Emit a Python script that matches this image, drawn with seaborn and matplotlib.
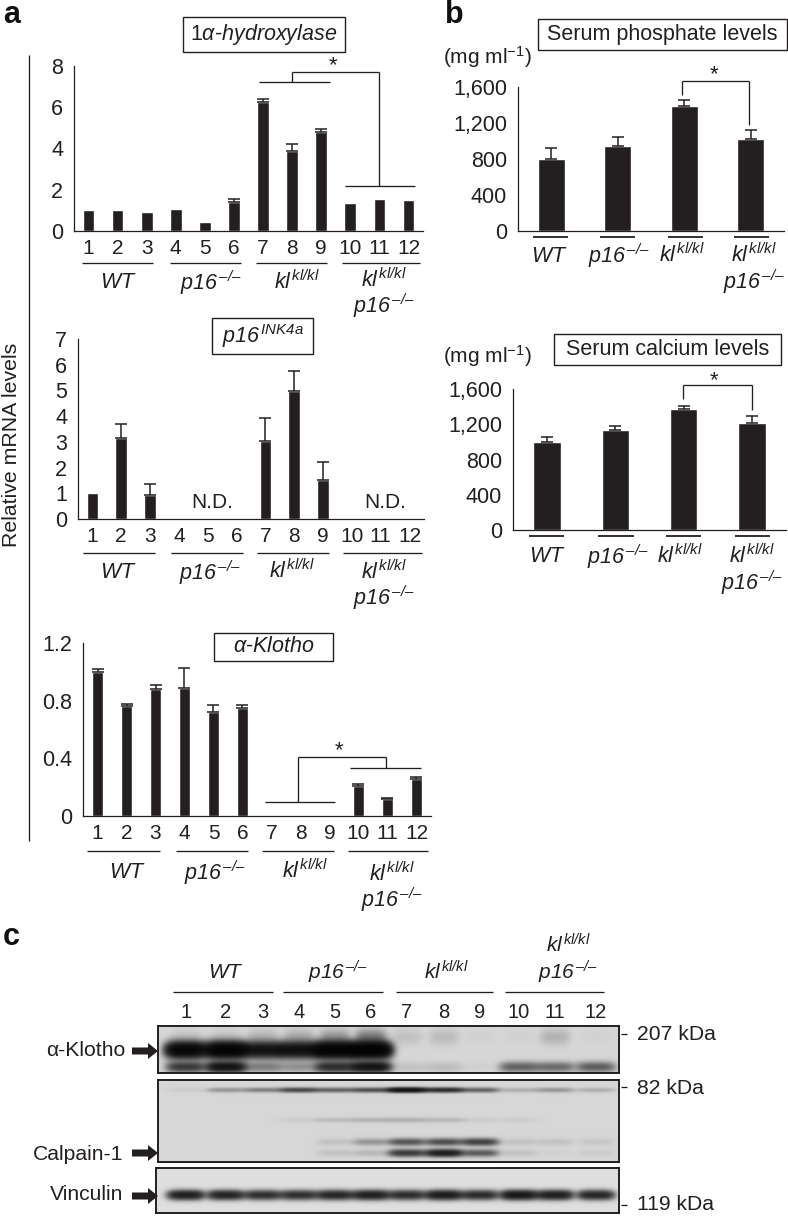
'''Bar panels and western blots, positions taken in pixels from the reference'''

import numpy as np
import matplotlib
matplotlib.use('Agg')
import matplotlib.pyplot as plt
from matplotlib.patches import Rectangle
import seaborn as sns

W, H = 788, 1217
INK = '#231f20'

#Panel a data
lanes = ['1', '2', '3', '4', '5', '6', '7', '8', '9', '10', '11', '12']
hydroxylase = [1.0, 1.0, 0.93, 1.07, 0.43, 1.4, 6.25, 3.9, 4.8, 1.37, 1.57, 1.5]
hydroxylase_err = [0, 0, 0, 0, 0, 0.13, 0.15, 0.3, 0.15, 0, 0, 0]
ink4a = [1.0, 3.15, 0.95, 0, 0, 0, 3.05, 4.97, 1.52, 0, 0, 0]
ink4a_err = [0, 0.55, 0.42, 0, 0, 0, 0.87, 0.8, 0.68, 0, 0, 0]
klotho = [1.0, 0.76, 0.88, 0.89, 0.72, 0.75, 0.005, 0.005, 0.005, 0.21, 0.12, 0.26]
klotho_err = [0.02, 0.015, 0.03, 0.14, 0.05, 0.02, 0, 0, 0, 0.015, 0.005, 0.01]

#Panel b data
genotypes = ['WT', 'p16', 'kl', 'kl p16']
phosphate = [800, 940, 1390, 1020]
phosphate_err = [125, 100, 65, 105]
calcium = [1000, 1130, 1370, 1210]
calcium_err = [50, 50, 40, 80]

#Panel c, band strength per lane
blot_lane_px = [186, 226, 263, 299, 335, 371, 407, 444, 480, 519, 555, 596]
klotho_main = [1.3, 1.5, 0.95, 1.0, 1.5, 1.6, 0, 0, 0, 0, 0, 0]
klotho_low = [0.5, 0.9, 0.2, 0.15, 0.6, 0.9, 0.04, 0.05, 0.01, 0.3, 0.27, 0.32]
klotho_high = [0.03, 0.03, 0.06, 0.08, 0.12, 0.2, 0.04, 0.05, 0.01, 0.01, 0.07, 0.01]
calpain_top = [0.02, 0.14, 0.2, 0.42, 0.3, 0.38, 0.95, 0.6, 0.3, 0.08, 0.14, 0.08]
calpain_faint = [0, 0, 0, 0.02, 0.05, 0.07, 0.08, 0.06, 0.02, 0.02, 0, 0]
calpain_mid = [0, 0, 0, 0, 0.04, 0.14, 0.35, 0.38, 0.45, 0.04, 0.04, 0.03]
calpain_low = [0, 0, 0, 0, 0.04, 0.06, 0.5, 0.75, 0.33, 0.04, 0.01, 0.02]
vinculin_band = [0.75, 0.7, 0.6, 0.6, 0.68, 0.75, 0.62, 0.8, 0.62, 0.85, 0.75, 0.68]


def px_axes(fig, left, top, right, bottom):
    return fig.add_axes([left/W, 1-bottom/H, (right-left)/W, (bottom-top)/H])


#Bars with upper error caps, seaborn takes care of the category scale
def bar_panel(fig, box, cats, values, errors, ymax, yticks, ylabels, show_x=True):
    ax = px_axes(fig, *box)
    sns.barplot(x=cats, y=values, order=cats, color=INK, saturation=1, width=0.4, ax=ax, errorbar=None)
    with_err = [i for i, e in enumerate(errors) if e > 0]
    ax.errorbar(with_err, [values[i] for i in with_err], yerr=[[0]*len(with_err), [errors[i] for i in with_err]],
                fmt='none', ecolor=INK, elinewidth=1.1, capsize=4, capthick=1.1)
    ax.set_xlim(-0.5, len(cats)-0.5)
    ax.set_ylim(0, ymax)
    ax.set_yticks(yticks)
    ax.set_yticklabels(ylabels, fontsize=15.5, color=INK)
    ax.tick_params(axis='y', length=3.4, width=0.9, color=INK, pad=4.5)
    if show_x:
        ax.tick_params(axis='x', length=0, pad=6, labelsize=15, labelcolor=INK)
    else:
        ax.tick_params(axis='x', length=0, labelbottom=False)
    ax.set_xlabel('')
    sns.despine(ax=ax)
    for side in ['left', 'bottom']:
        ax.spines[side].set_linewidth(0.9)
        ax.spines[side].set_color(INK)
    return ax


#Greyscale blot made from the band lists, drawn as a heatmap
def blot_panel(fig, box, bands, background):
    left, top, right, bottom = box
    ax = px_axes(fig, *box)
    xx, yy = np.meshgrid(np.arange(left, right)+0.5, np.arange(top, bottom)+0.5)
    dark = np.zeros(xx.shape)
    for band_y, band_h, band_w, strengths in bands:
        for lane_x, s in zip(blot_lane_px, strengths):
            shape_x = np.exp(-((xx-lane_x)/band_w)**4)
            shape_y = np.exp(-((yy-band_y)/band_h)**2)
            dark += s*shape_x*shape_y
    img = background*np.exp(-2.6*dark)
    sns.heatmap(img, cmap='gray', vmin=0, vmax=1, cbar=False, xticklabels=False, yticklabels=False, ax=ax)
    for spine in ax.spines.values():
        spine.set_visible(True)
        spine.set_linewidth(1.4)
        spine.set_color(INK)
    return ax


def group_label(ov, name, x, y, size=15.5):
    kl = r'$\mathrm{kl}^{\,\mathrm{kl/kl}}$'
    p16 = '$\\mathrm{p16}^{\\,\\mathrm{\u2013/\u2013}}$'
    text = {'WT': r'$\mathrm{WT}$', 'p16': p16, 'kl': kl}[name]
    ov.text(x, y, text, fontsize=size, color=INK, ha='center', va='center')


def hline(ov, x0, x1, y):
    ov.plot([x0, x1], [y, y], color=INK, lw=0.95, solid_capstyle='butt')


def vline(ov, x, y0, y1):
    ov.plot([x, x], [y0, y1], color=INK, lw=0.95, solid_capstyle='butt')


def title_box(ov, x0, y0, x1, y1, text, size=15.5):
    ov.add_patch(Rectangle((x0, y0), x1-x0, y1-y0, fill=False, ec=INK, lw=1.0))
    ov.text((x0+x1)/2, (y0+y1)/2, text, fontsize=size, color=INK, ha='center', va='center')


def arrow(ov, x0, x1, y):
    ov.arrow(x0, y, x1-x0, 0, width=7, head_width=16, head_length=10, length_includes_head=True,
             color=INK, lw=0)


def main():
    sns.set_style('white')
    plt.rcParams['font.family'] = ['Liberation Sans', 'DejaVu Sans']
    #rm is italic on purpose, \mathit would set digits and slashes upright
    plt.rcParams['mathtext.fontset'] = 'custom'
    plt.rcParams['mathtext.rm'] = 'Liberation Sans:italic'
    plt.rcParams['mathtext.it'] = 'Liberation Sans:italic'
    plt.rcParams['mathtext.sf'] = 'Liberation Sans'
    plt.rcParams['mathtext.bf'] = 'Liberation Sans:bold'

    fig = plt.figure(figsize=(W/100, H/100), dpi=100)

    #Panel a
    bar_panel(fig, (74, 66, 423, 231), lanes, hydroxylase, hydroxylase_err, 8, [0, 2, 4, 6, 8], ['0', '2', '4', '6', '8'])
    bar_panel(fig, (78, 339, 424, 519), lanes, ink4a, ink4a_err, 7, range(8), [str(i) for i in range(8)])
    bar_panel(fig, (83, 643, 431, 816), lanes, klotho, klotho_err, 1.2, [0, 0.4, 0.8, 1.2], ['0', '0.4', '0.8', '1.2'])

    #Panel b
    b_ticks = [0, 400, 800, 1200, 1600]
    b_labels = ['0', '400', '800', '1,200', '1,600']
    bar_panel(fig, (518, 87, 784, 231), genotypes, phosphate, phosphate_err, 1600, b_ticks, b_labels, show_x=False)
    bar_panel(fig, (513, 389, 786, 530), genotypes, calcium, calcium_err, 1600, b_ticks, b_labels, show_x=False)

    #Panel c
    blot_panel(fig, (158, 1026, 619, 1073), [(1050, 7.5, 20, klotho_main), (1067, 5, 19, klotho_low), (1037, 8, 15, klotho_high)], 0.84)
    blot_panel(fig, (158, 1080, 619, 1162), [(1090, 2.4, 19, calpain_top), (1120, 2.5, 20, calpain_faint), (1142, 3.5, 18, calpain_mid), (1153, 3.5, 18, calpain_low)], 0.84)
    blot_panel(fig, (156, 1168, 619, 1213), [(1195, 4.5, 18, vinculin_band)], 0.87)

    #Overlay in pixel coordinates for the labels and brackets
    ov = fig.add_axes([0, 0, 1, 1])
    ov.set_xlim(0, W)
    ov.set_ylim(H, 0)
    ov.axis('off')
    ov.patch.set_alpha(0)

    for letter, x, y in [('a', 3, 23), ('b', 445, 23), ('c', 3, 945)]:
        ov.text(x, y, letter, fontsize=22, fontweight='bold', color='#111111', ha='left', va='baseline')

    ov.text(12, 445, 'Relative mRNA levels', fontsize=15.3, rotation=90, color=INK, ha='center', va='center')
    vline(ov, 29, 55, 841)

    title_box(ov, 183, 17, 345, 52, r'1$\alpha$-$\mathit{hydroxylase}$')
    title_box(ov, 212, 318, 313, 354, r'$\mathrm{p16}^{\,\mathrm{INK4a}}$')
    title_box(ov, 214, 633, 333, 661, r'$\alpha$-$\mathit{Klotho}$')
    title_box(ov, 538, 19, 787, 50, 'Serum phosphate levels')
    title_box(ov, 554, 334, 781, 365, 'Serum calcium levels')
    ov.text(443, 57, r'(mg ml$^{\mathsf{-1}}$)', fontsize=15, color=INK, ha='left', va='center')
    ov.text(443, 356, r'(mg ml$^{\mathsf{-1}}$)', fontsize=15, color=INK, ha='left', va='center')

    #a, top plot
    for x0, x1 in [(82, 153), (170, 241), (256, 327), (342, 420)]:
        hline(ov, x0, x1, 263)
    group_label(ov, 'WT', 118, 283)
    group_label(ov, 'p16', 211, 283)
    group_label(ov, 'kl', 297, 282)
    group_label(ov, 'kl', 384, 280)
    group_label(ov, 'p16', 384, 306)
    hline(ov, 259, 330, 82)
    vline(ov, 292, 72, 82)
    hline(ov, 292, 379, 72)
    vline(ov, 379, 72, 186)
    hline(ov, 345, 415, 186)
    ov.text(333, 66, '*', fontsize=16, color=INK, ha='center', va='center')

    #a, middle plot
    for x0, x1 in [(83, 155), (171, 243), (257, 329), (343, 422)]:
        hline(ov, x0, x1, 553)
    group_label(ov, 'WT', 118, 573)
    group_label(ov, 'p16', 210, 573)
    group_label(ov, 'kl', 292, 571)
    group_label(ov, 'kl', 384, 572)
    group_label(ov, 'p16', 384, 598)
    ov.text(212, 503, 'N.D.', fontsize=15, color=INK, ha='center', va='center')
    ov.text(385, 503, 'N.D.', fontsize=15, color=INK, ha='center', va='center')

    #a, bottom plot
    for x0, x1 in [(87, 160), (176, 248), (262, 334), (348, 428)]:
        hline(ov, x0, x1, 851)
    group_label(ov, 'WT', 127, 873)
    group_label(ov, 'p16', 215, 873)
    group_label(ov, 'kl', 305, 871)
    group_label(ov, 'kl', 392, 874)
    group_label(ov, 'p16', 392, 900)
    hline(ov, 265, 335, 802)
    vline(ov, 298, 757, 802)
    hline(ov, 298, 386, 757)
    vline(ov, 386, 757, 768)
    hline(ov, 350, 421, 768)
    ov.text(339, 751, '*', fontsize=16, color=INK, ha='center', va='center')

    #b, phosphate
    for x0, x1 in [(533, 568), (600, 635), (668, 703), (734, 769)]:
        ov.plot([x0, x1], [237, 237], color=INK, lw=1.3, solid_capstyle='butt')
    group_label(ov, 'WT', 549, 256)
    group_label(ov, 'p16', 619, 256)
    group_label(ov, 'kl', 682, 255)
    group_label(ov, 'kl', 754, 255)
    group_label(ov, 'p16', 754, 282)
    hline(ov, 682, 749, 81)
    vline(ov, 682, 81, 95)
    vline(ov, 749, 81, 125)
    ov.text(714, 75, '*', fontsize=16, color=INK, ha='center', va='center')

    #b, calcium
    for x0, x1 in [(529, 564), (598, 634), (666, 701), (735, 770)]:
        ov.plot([x0, x1], [536, 536], color=INK, lw=1.3, solid_capstyle='butt')
    group_label(ov, 'WT', 547, 557)
    group_label(ov, 'p16', 618, 557)
    group_label(ov, 'kl', 680, 556)
    group_label(ov, 'kl', 752, 556)
    group_label(ov, 'p16', 752, 583)
    hline(ov, 683, 752, 385)
    vline(ov, 683, 385, 399)
    vline(ov, 752, 385, 410)
    ov.text(714, 381, '*', fontsize=16, color=INK, ha='center', va='center')

    #c, header over the blots
    for x0, x1 in [(173, 273), (283, 383), (396, 493), (505, 604)]:
        hline(ov, x0, x1, 992)
    group_label(ov, 'WT', 226, 972, 15)
    group_label(ov, 'p16', 338, 972, 15)
    group_label(ov, 'kl', 446, 972, 15)
    group_label(ov, 'kl', 568, 945, 15)
    group_label(ov, 'p16', 568, 972, 15)
    for x, label in zip(blot_lane_px, lanes):
        ov.text(x, 1013, label, fontsize=14.5, color=INK, ha='center', va='center')

    #c, names and arrows on the left
    for name, x, y in [('\u03b1-Klotho', 125, 1050), ('Calpain-1', 123, 1154), ('Vinculin', 123, 1195)]:
        ov.text(x, y, name, fontsize=15.2, color=INK, ha='right', va='center')
    arrow(ov, 132, 158, 1051)
    arrow(ov, 132, 158, 1153)
    arrow(ov, 132, 158, 1196)

    #c, size markers on the right
    for label, y_tick, y_text in [('207 kDa', 1034, 1035), ('82 kDa', 1087, 1088), ('119 kDa', 1205, 1205)]:
        hline(ov, 621, 627, y_tick)
        ov.text(637, y_text, label, fontsize=15.2, color=INK, ha='left', va='center')

    fig.savefig('out.png', dpi=100, facecolor='white')


main()
